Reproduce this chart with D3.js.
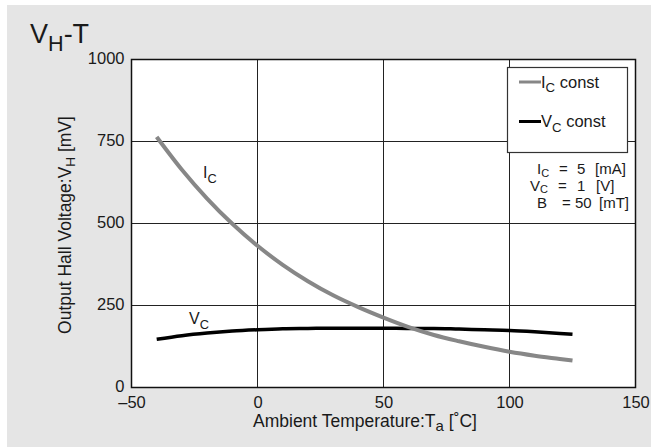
<!DOCTYPE html>
<html>
<head>
<meta charset="utf-8">
<script src="https://cdn.jsdelivr.net/npm/d3@7"></script>
<style>
  body { margin: 0; background: #fff; }
  text { font-family: "Liberation Sans", Arial, sans-serif; fill: #1a1a1a; }
</style>
</head>
<body>
<div id="chart"></div>
<script>
// data
var temps = [-40, -30, -20, -10, 0, 10, 20, 30, 40, 50, 60, 70, 80, 90, 100, 110, 120, 125];
var icConst = [764, 664, 576, 499, 432, 374, 324, 281, 245, 213, 184, 160, 141, 124, 109, 97, 87, 82];
var vcConst = [147, 158, 166, 172, 176, 179, 180, 181, 181, 181, 180, 180, 178, 176, 174, 170, 165, 162];
var xTicks = [-50, 0, 50, 100, 150];
var yTicks = [0, 250, 500, 750, 1000];

var svg_width = 651;
var svg_height = 447;
var margin = { top: 59.5, right: 15.5, bottom: 59.5, left: 131.5 };
var chartWidth = svg_width - margin.left - margin.right;
var chartHeight = svg_height - margin.top - margin.bottom;

var svg = d3.select("#chart")
    .append("svg")
    .attr("width", svg_width)
    .attr("height", svg_height);

// gray panel
svg.append("rect")
    .attr("x", 7).attr("y", 5)
    .attr("width", svg_width - 7).attr("height", svg_height - 5)
    .attr("fill", "#e5e5e5");

var chartGroup = svg.append("g")
    .attr("transform", `translate(${margin.left}, ${margin.top})`);

var xScale = d3.scaleLinear().domain([-50, 150]).range([0, chartWidth]);
var yScale = d3.scaleLinear().domain([0, 1000]).range([chartHeight, 0]);

chartGroup.append("rect")
    .attr("width", chartWidth).attr("height", chartHeight)
    .attr("fill", "#fff");

// grid
chartGroup.append("g").selectAll("line")
    .data(xTicks.slice(1, -1))
    .enter().append("line")
    .attr("x1", d => xScale(d)).attr("x2", d => xScale(d))
    .attr("y1", 0).attr("y2", chartHeight)
    .attr("stroke", "#222").attr("stroke-width", 1);

chartGroup.append("g").selectAll("line")
    .data(yTicks.slice(1, -1))
    .enter().append("line")
    .attr("y1", d => yScale(d)).attr("y2", d => yScale(d))
    .attr("x1", 0).attr("x2", chartWidth)
    .attr("stroke", "#222").attr("stroke-width", 1);

// axes (labels only, frame drawn separately)
var bottom_axis = d3.axisBottom(xScale)
    .tickValues(xTicks).tickSize(0).tickPadding(9)
    .tickFormat(d => d < 0 ? "\u2013" + Math.abs(d) : String(d));
var left_axis = d3.axisLeft(yScale)
    .tickValues(yTicks).tickSize(0).tickPadding(7)
    .tickFormat(d => String(d));

var gx = chartGroup.append("g")
    .attr("transform", `translate(0, ${chartHeight})`)
    .call(bottom_axis);
var gy = chartGroup.append("g").call(left_axis);
[gx, gy].forEach(function(g) {
    g.select(".domain").remove();
    g.selectAll("text")
        .attr("font-size", 16.5)
        .attr("fill", "#1a1a1a");
});
gy.selectAll("text").attr("dy", "0.22em");

// curves
var rows = temps.map((t, i) => ({ t: t, ic: icConst[i], vc: vcConst[i] }));

var vcLine = d3.line().x(d => xScale(d.t)).y(d => yScale(d.vc)).curve(d3.curveMonotoneX);
var icLine = d3.line().x(d => xScale(d.t)).y(d => yScale(d.ic)).curve(d3.curveMonotoneX);

chartGroup.append("path")
    .datum(rows)
    .attr("d", vcLine)
    .attr("fill", "none")
    .attr("stroke", "#000")
    .attr("stroke-width", 3.5);

chartGroup.append("path")
    .datum(rows)
    .attr("d", icLine)
    .attr("fill", "none")
    .attr("stroke", "#878787")
    .attr("stroke-width", 4);

// frame
chartGroup.append("rect")
    .attr("width", chartWidth).attr("height", chartHeight)
    .attr("fill", "none")
    .attr("stroke", "#111").attr("stroke-width", 1.5);

// helper for text with a subscript
function subText(g, x, y, size, main, sub, rest, shift, subSize) {
    var s = shift || size * 0.3;
    var t = g.append("text")
        .attr("x", x).attr("y", y)
        .attr("font-size", size);
    t.append("tspan").text(main);
    t.append("tspan").text(sub).attr("font-size", subSize || size * 0.8).attr("dy", s);
    if (rest) t.append("tspan").text(rest).attr("dy", -s);
    return t;
}

// title
subText(svg, 30, 43, 27, "V", "H", "-T");

// curve labels
subText(svg, 203, 178, 16, "I", "C");
subText(svg, 189, 324, 16, "V", "C");

// legend
svg.append("rect")
    .attr("x", 507.5).attr("y", 67.5)
    .attr("width", 120).attr("height", 85)
    .attr("fill", "#fff")
    .attr("stroke", "#333").attr("stroke-width", 1.2);

var legendItems = [
    { main: "I", sub: "C", rest: " const", color: "#878787", y: 82 },
    { main: "V", sub: "C", rest: " const", color: "#000", y: 121.5 }
];
legendItems.forEach(function(d) {
    svg.append("line")
        .attr("x1", 519).attr("x2", 541)
        .attr("y1", d.y).attr("y2", d.y)
        .attr("stroke", d.color).attr("stroke-width", 3);
    subText(svg, 541, d.y + 5.5, 16.5, d.main, d.sub, d.rest);
});

// conditions
var condFont = 15;
subText(svg, 537, 174, condFont, "I", "C", null, 2.5, 11);
subText(svg, 530, 190.5, condFont, "V", "C", null, 2.5, 11);
svg.append("text").attr("x", 537).attr("y", 207.5).attr("font-size", condFont).text("B");
[["=", 559, 174], ["5", 577, 174], ["[mA]", 595, 174],
 ["=", 558, 190.5], ["1", 577, 190.5], ["[V]", 596, 190.5],
 ["= 50", 562, 207.5], ["[mT]", 599, 207.5]].forEach(function(d) {
    svg.append("text").attr("x", d[1]).attr("y", d[2]).attr("font-size", condFont).text(d[0]);
});

// axis titles
var xt = svg.append("text")
    .attr("x", 365).attr("y", 427)
    .attr("font-size", 17.5)
    .attr("text-anchor", "middle");
xt.append("tspan").text("Ambient Temperature:T");
xt.append("tspan").text("a").attr("font-size", 15).attr("dy", 4);
xt.append("tspan").text(" [\u02DAC]").attr("dy", -4);

var yt = svg.append("text")
    .attr("transform", "translate(71, 225) rotate(-90)")
    .attr("font-size", 17.5)
    .attr("text-anchor", "middle");
yt.append("tspan").text("Output Hall Voltage:V");
yt.append("tspan").text("H").attr("font-size", 13.5).attr("dy", 4);
yt.append("tspan").text(" [mV]").attr("dy", -4);
</script>
</body>
</html>
